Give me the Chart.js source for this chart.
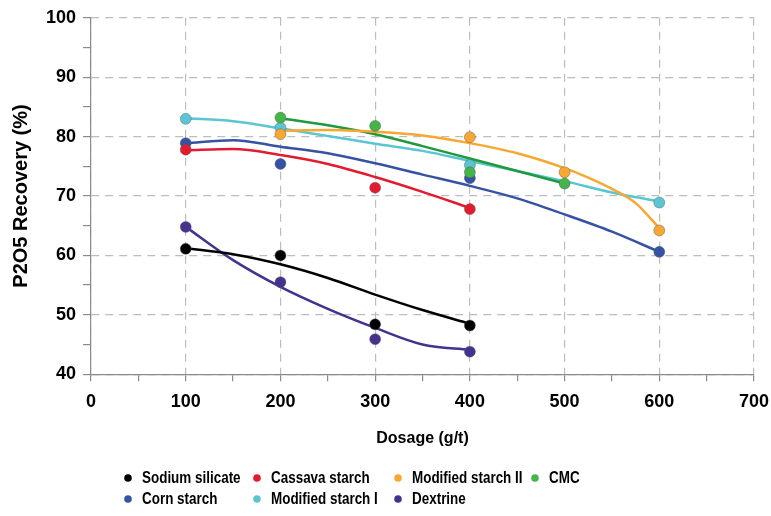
<!DOCTYPE html>
<html>
<head>
<meta charset="utf-8">
<script src="https://cdn.jsdelivr.net/npm/chart.js@4.4.1/dist/chart.umd.min.js"></script>
<style>
  body { margin: 0; background: #fff; }
  #wrap { width: 771px; height: 516px; }
</style>
</head>
<body>
<div id="wrap"><canvas id="chart1" width="771" height="516"></canvas></div>
<script>
const seriesNames = ['Sodium silicate', 'Cassava starch', 'Modified starch II', 'CMC', 'Corn starch', 'Modified starch I', 'Dextrine'];
const seriesColors = ['#000000', '#e31b2e', '#f7a733', '#43b549', '#3652a5', '#5ac6d3', '#46318f'];
const lineColors = ['#000000', '#e31b2e', '#f7a733', '#1f9a3d', '#3652a5', '#5ac6d3', '#46318f'];

// measured points
const sodiumX = [100, 200, 300, 400];
const sodiumY = [61.1, 60.0, 48.4, 48.2];
const cassavaX = [100, 300, 400];
const cassavaY = [77.8, 71.4, 67.8];
const modIIX = [200, 400, 500, 600];
const modIIY = [80.4, 79.9, 74.0, 64.2];
const cmcX = [200, 300, 400, 500];
const cmcY = [83.2, 81.8, 74.0, 72.1];
const cornX = [100, 200, 400, 600];
const cornY = [78.9, 75.4, 73.0, 60.6];
const modIX = [100, 200, 400, 600];
const modIY = [83.0, 81.5, 75.2, 68.9];
const dextrineX = [100, 200, 300, 400];
const dextrineY = [64.8, 55.5, 45.9, 43.8];

// fitted curves
const fit100to400 = [100, 150, 200, 250, 300, 350, 400];
const fit100to600 = [100, 150, 200, 250, 300, 350, 400, 450, 500, 550, 600];
const fit200to500 = [200, 250, 300, 350, 400, 450, 500];
const fitModIIX = [200, 250, 300, 350, 400, 450, 500, 525, 550, 575, 600];
const sodiumFit = [61.2, 60.2, 58.5, 56.2, 53.4, 50.8, 48.5];
const cassavaFit = [77.7, 77.9, 76.9, 75.4, 73.2, 70.7, 68.0];
const modIIFit = [81.0, 81.1, 80.8, 80.2, 78.9, 77.2, 74.7, 73.1, 71.2, 68.8, 64.6];
const cmcFit = [83.1, 81.9, 80.4, 78.4, 76.3, 74.2, 72.1];
const cornFit = [78.9, 79.4, 78.3, 77.2, 75.5, 73.6, 71.7, 69.6, 66.9, 64.0, 60.6];
const modIFit = [83.1, 82.6, 81.4, 80.1, 78.8, 77.6, 75.9, 74.2, 72.5, 70.6, 69.1];
const dextrineFit = [64.8, 59.2, 54.7, 51.0, 47.8, 45.0, 44.1];

const xTicks = [0, 100, 200, 300, 400, 500, 600, 700];
const yTicks = [40, 50, 60, 70, 80, 90, 100];

const pointSets = [
    [sodiumX, sodiumY], [cassavaX, cassavaY], [modIIX, modIIY], [cmcX, cmcY],
    [cornX, cornY], [modIX, modIY], [dextrineX, dextrineY]
];
const fitSets = [
    [fit100to400, sodiumFit], [fit100to400, cassavaFit], [fitModIIX, modIIFit], [fit200to500, cmcFit],
    [fit100to600, cornFit], [fit100to600, modIFit], [fit100to400, dextrineFit]
];

const toXY = (xs, ys) => xs.map((x, i) => ({x: x, y: ys[i]}));

const datasets = [];
pointSets.forEach((s, i) => {
    datasets.push({
        label: seriesNames[i],
        data: toXY(s[0], s[1]),
        showLine: false,
        backgroundColor: seriesColors[i],
        borderColor: 'rgba(90,90,90,0.55)',
        borderWidth: 0.8,
        pointRadius: 5.5,
        order: 1,
        inLegend: true
    });
});
fitSets.forEach((s, i) => {
    datasets.push({
        label: seriesNames[i] + ' fit',
        data: toXY(s[0], s[1]),
        showLine: true,
        borderColor: lineColors[i],
        borderWidth: 2.5,
        pointRadius: 0,
        cubicInterpolationMode: 'monotone',
        order: 2
    });
});

// legend laid out in columns like the original (narrow bold text)
const gridLegend = {
    id: 'gridLegend',
    afterDraw(chart) {
        const ctx = chart.ctx;
        const cols = [128, 257, 398, 535];
        const rows = [478, 499];
        const items = chart.data.datasets.filter(d => d.inLegend);
        ctx.save();
        ctx.font = 'bold 16px "Liberation Sans", Arial, sans-serif';
        ctx.textBaseline = 'middle';
        ctx.textAlign = 'left';
        items.forEach((d, i) => {
            const x = cols[i % 4];
            const y = rows[Math.floor(i / 4)];
            ctx.beginPath();
            ctx.arc(x, y, 3.8, 0, Math.PI * 2);
            ctx.fillStyle = d.backgroundColor;
            ctx.fill();
            ctx.save();
            ctx.translate(x + 14, y + 1);
            ctx.scale(0.84, 1);
            ctx.fillStyle = '#000';
            ctx.fillText(d.label, 0, 0);
            ctx.restore();
        });
        ctx.restore();
    }
};

const font = 'Liberation Sans';
const ctx = document.getElementById('chart1').getContext('2d');
const chart1 = new Chart(ctx, {
    type: 'scatter',
    data: { datasets: datasets },
    options: {
        responsive: false,
        animation: false,
        layout: { padding: { top: 9, right: 0, left: 5, bottom: 68 } },
        scales: {
            x: {
                type: 'linear',
                min: xTicks[0],
                max: xTicks[xTicks.length - 1],
                afterFit: s => { s.paddingRight = 17; },
                ticks: {
                    stepSize: 50,
                    autoSkip: false,
                    maxRotation: 0,
                    padding: 10,
                    color: '#000',
                    font: { family: font, size: 18, weight: 'bold' },
                    callback: v => xTicks.includes(v) ? v : ''
                },
                grid: {
                    color: c => xTicks.includes(c.tick.value) ? '#bdbdbd' : 'rgba(0,0,0,0)',
                    lineWidth: 1.2,
                    tickColor: '#8a8a8a',
                    tickLength: 7
                },
                border: { color: '#8a8a8a', width: 1.2, dash: [8, 6] },
                title: {
                    display: true,
                    text: 'Dosage (g/t)',
                    color: '#000',
                    padding: { top: 6, bottom: 0 },
                    font: { family: font, size: 16, weight: 'bold' }
                }
            },
            y: {
                min: yTicks[0],
                max: yTicks[yTicks.length - 1],
                ticks: {
                    stepSize: 5,
                    autoSkip: false,
                    padding: 7,
                    color: '#000',
                    font: { family: font, size: 18, weight: 'bold' },
                    callback: v => yTicks.includes(v) ? v : ''
                },
                grid: {
                    color: c => yTicks.includes(c.tick.value) ? '#bdbdbd' : 'rgba(0,0,0,0)',
                    lineWidth: 1.2,
                    tickColor: '#8a8a8a',
                    tickLength: 8
                },
                border: { color: '#8a8a8a', width: 1.2, dash: [8, 6] },
                title: {
                    display: true,
                    text: 'P2O5 Recovery (%)',
                    color: '#000',
                    padding: { bottom: 6 },
                    font: { family: font, size: 20, weight: 'bold' }
                }
            }
        },
        plugins: {
            legend: { display: false },
            tooltip: { enabled: false }
        }
    },
    plugins: [gridLegend]
});
</script>
</body>
</html>
